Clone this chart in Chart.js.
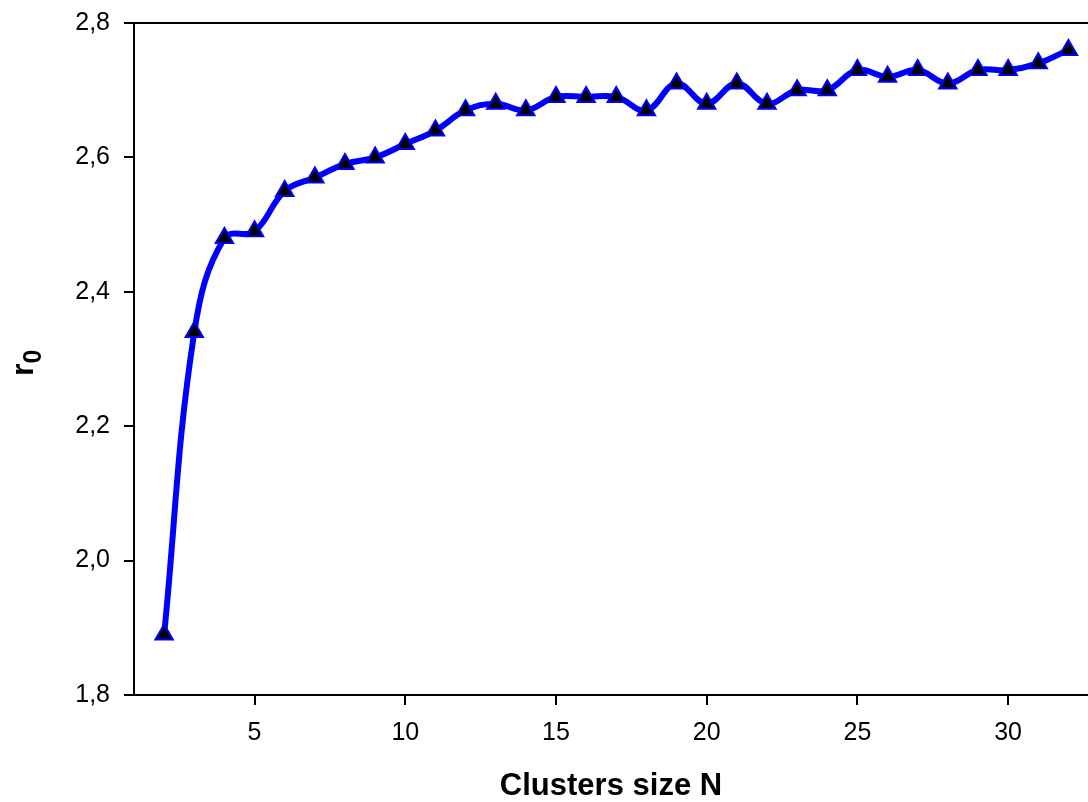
<!DOCTYPE html>
<html>
<head>
<meta charset="utf-8">
<script src="https://cdn.jsdelivr.net/npm/chart.js@4/dist/chart.umd.min.js"></script>
<style>
  body { margin: 0; background: #fff; }
  canvas { display: block; }
</style>
</head>
<body>
<canvas id="chart" width="1088" height="802"></canvas>
<script>
// cluster sizes and r0 values
const clusterSizes = [2, 3, 4, 5, 6, 7, 8, 9, 10, 11, 12, 13, 14, 15, 16, 17,
  18, 19, 20, 21, 22, 23, 24, 25, 26, 27, 28, 29, 30, 31, 32];
const r0Values = [1.89, 2.34, 2.48, 2.49, 2.55, 2.57, 2.59, 2.60, 2.62, 2.64, 2.67, 2.68, 2.67, 2.69, 2.69, 2.69,
  2.67, 2.71, 2.68, 2.71, 2.68, 2.70, 2.70, 2.73, 2.72, 2.73, 2.71, 2.73, 2.73, 2.74, 2.76];
const xTicks = [5, 10, 15, 20, 25, 30];

const FONT = '"Liberation Sans", Arial, sans-serif';

// y title with subscript, plus the top frame line
const extras = {
  id: 'extras',
  afterDraw(chart) {
    const { ctx, chartArea } = chart;
    ctx.save();
    ctx.strokeStyle = '#000';
    ctx.lineWidth = 2;
    ctx.beginPath();
    ctx.moveTo(chartArea.left, chartArea.top);
    ctx.lineTo(chartArea.right, chartArea.top);
    ctx.stroke();

    ctx.translate(33, 362);
    ctx.rotate(-Math.PI / 2);
    ctx.fillStyle = '#000';
    ctx.textBaseline = 'alphabetic';
    ctx.font = 'bold 32px ' + FONT;
    const rw = ctx.measureText('r').width;
    ctx.fillText('r', -14, 0);
    ctx.font = 'bold 25px ' + FONT;
    ctx.fillText('0', -14 + rw, 8);
    ctx.restore();
  }
};

new Chart(document.getElementById('chart'), {
  type: 'line',
  data: {
    datasets: [{
      data: clusterSizes.map((n, i) => ({ x: n, y: r0Values[i] })),
      borderColor: '#0000ff',
      borderWidth: 6,
      tension: 0.4,
      pointStyle: 'triangle',
      pointRadius: 10,
      pointBackgroundColor: '#000',
      pointBorderColor: '#0000ff',
      pointBorderWidth: 2,
      clip: false,
    }],
  },
  options: {
    responsive: false,
    animation: false,
    layout: { autoPadding: false, padding: { top: 23, right: 0, left: 0, bottom: 0 } },
    plugins: {
      legend: { display: false },
      tooltip: { enabled: false },
    },
    scales: {
      x: {
        type: 'linear',
        min: 1,
        max: 32.65,
        afterBuildTicks: (scale) => { scale.ticks = xTicks.map((v) => ({ value: v })); },
        afterFit: (scale) => {
          scale.height = 107;
          scale.paddingLeft = 0;
          scale.paddingRight = 0;
        },
        border: { color: '#000', width: 2 },
        grid: { drawOnChartArea: false, color: '#000', tickLength: 10, lineWidth: 2 },
        ticks: { color: '#000', font: { family: FONT, size: 25 }, padding: 13, maxRotation: 0 },
        title: {
          display: true,
          text: 'Clusters size N',
          color: '#000',
          font: { family: FONT, size: 31, weight: 'bold', lineHeight: 1 },
          padding: { top: 0, bottom: 0 },
        },
      },
      y: {
        min: 1.8,
        max: 2.8,
        afterFit: (scale) => {
          scale.width = 134;
          scale.paddingTop = 0;
          scale.paddingBottom = 0;
        },
        border: { color: '#000', width: 2 },
        grid: { drawOnChartArea: false, color: '#000', tickLength: 10, lineWidth: 2 },
        ticks: {
          stepSize: 0.2,
          color: '#000',
          padding: 14,
          font: { family: FONT, size: 25 },
          callback: (v) => v.toFixed(1).replace('.', ','),
        },
      },
    },
  },
  plugins: [extras],
});
</script>
</body>
</html>
